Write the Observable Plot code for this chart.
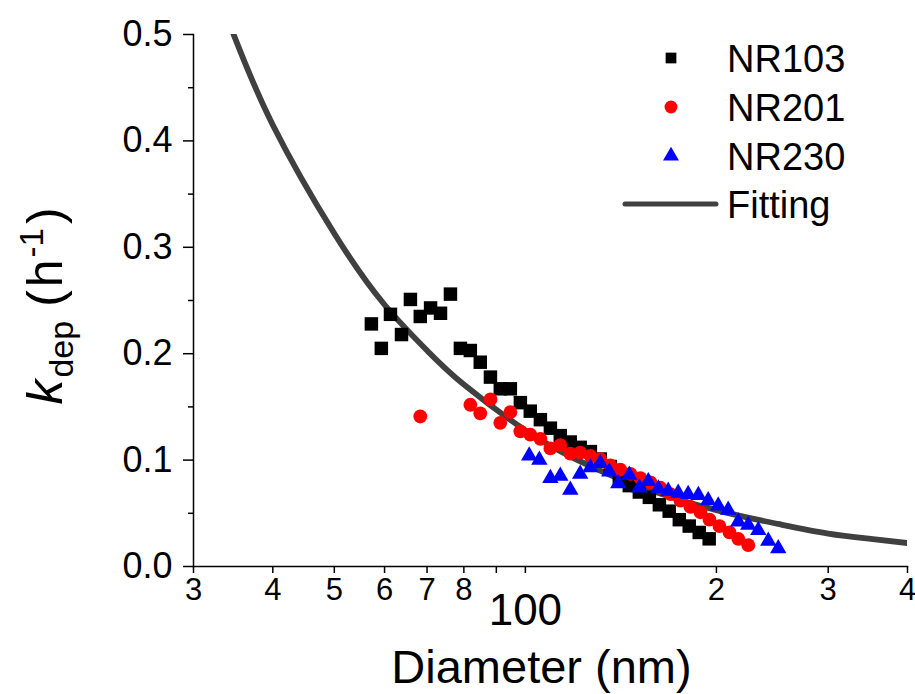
<!DOCTYPE html>
<html>
<head>
<meta charset="utf-8">
<script src="https://cdn.jsdelivr.net/npm/d3@7"></script>
<script src="https://cdn.jsdelivr.net/npm/@observablehq/plot@0.6"></script>
<style>
  html, body { margin: 0; padding: 0; background: #fff; }
  #chart { width: 915px; height: 694px; }
  svg { font-family: "Liberation Sans", Arial, sans-serif; }
</style>
</head>
<body>
<div id="chart"></div>
<script>
// ---- data ----
const nr103D = [57.2, 59.3, 61.3, 63.8, 65.9, 68.3, 70.9, 73.5, 76.2, 79.0, 81.9, 84.9, 88.1, 91.3, 94.7, 98.2, 101.8, 105.6, 109.5, 113.5, 117.7, 122.0, 126.6, 131.2, 136.1, 140.6, 145.8, 151.2, 156.8, 162.6, 168.5, 174.8, 181.2, 187.9, 194.8];
const nr103K = [0.228, 0.205, 0.237, 0.218, 0.251, 0.235, 0.243, 0.238, 0.256, 0.205, 0.203, 0.192, 0.178, 0.167, 0.167, 0.154, 0.146, 0.138, 0.130, 0.123, 0.117, 0.112, 0.108, 0.101, 0.094, 0.083, 0.076, 0.070, 0.065, 0.058, 0.052, 0.044, 0.038, 0.032, 0.026];

const nr201D = [68.3, 81.9, 84.9, 88.1, 91.3, 94.7, 98.2, 101.8, 105.6, 109.5, 113.5, 117.7, 122.0, 126.6, 131.2, 136.1, 141.1, 146.4, 151.8, 157.4, 163.2, 169.3, 175.5, 182.0, 188.7, 195.0, 202.2, 209.7, 216.5, 224.5];
const nr201K = [0.141, 0.152, 0.144, 0.157, 0.135, 0.145, 0.127, 0.124, 0.120, 0.111, 0.114, 0.106, 0.107, 0.104, 0.101, 0.095, 0.091, 0.087, 0.083, 0.079, 0.074, 0.068, 0.062, 0.056, 0.051, 0.044, 0.038, 0.032, 0.026, 0.020];

const nr230D = [101.4, 105.2, 109.5, 113.5, 117.7, 122.0, 126.6, 131.2, 135.6, 140.1, 145.8, 151.2, 156.2, 162.0, 167.9, 174.1, 180.5, 187.3, 194.1, 201.3, 208.7, 216.5, 224.5, 232.8, 241.4, 250.3];
const nr230K = [0.104, 0.100, 0.083, 0.085, 0.072, 0.087, 0.093, 0.097, 0.089, 0.078, 0.086, 0.074, 0.080, 0.073, 0.071, 0.069, 0.068, 0.067, 0.062, 0.057, 0.053, 0.042, 0.039, 0.034, 0.024, 0.017];

const fitD = [34.7, 40, 50, 60, 70, 80, 100, 120, 150, 200, 250, 300, 350, 400];
const fitK = [0.500, 0.415, 0.313, 0.246, 0.203, 0.171, 0.128, 0.101, 0.076, 0.053, 0.040, 0.031, 0.026, 0.022];

const xTicks = [30, 40, 50, 60, 70, 80, 90, 100, 200, 300, 400];
const xTickLabels = ["3", "4", "5", "6", "7", "8", "", "", "2", "3", "4"];
const xBigTick = [100];
const xBigTickLabel = ["100"];
const yMajor = [0, 0.1, 0.2, 0.3, 0.4, 0.5];
const yMinor = [0.05, 0.15, 0.25, 0.35, 0.45];

const seriesNames = ["NR103", "NR201", "NR230", "Fitting"];
const seriesColors = ["#000000", "#ff0000", "#0000ff", "#404040"];

// ---- build tables ----
const pts = (D, K) => D.map((d, i) => ({d, k: K[i]}));
const s103 = pts(nr103D, nr103K);
const s201 = pts(nr201D, nr201K);
const s230 = pts(nr230D, nr230K);
const fit = pts(fitD, fitK);
const xLabelOf = new Map(xTicks.map((t, i) => [t, xTickLabels[i]]));

const FONT = "'Liberation Sans', Arial, sans-serif";

const plot = Plot.plot({
  width: 915,
  height: 694,
  marginLeft: 193,
  marginRight: 8,
  marginTop: 34,
  marginBottom: 128,
  style: {fontFamily: FONT, color: "#000", background: "#fff", overflow: "visible"},
  x: {type: "log", domain: [30, 400]},
  y: {domain: [0, 0.5]},
  marks: [
    Plot.line(fit, {x: "d", y: "k", stroke: seriesColors[3], strokeWidth: 5.8, curve: "natural", clip: true}),
    Plot.dot(s103, {x: "d", y: "k", symbol: "square", r: 7.6, fill: seriesColors[0], stroke: "none"}),
    Plot.dot(s201, {x: "d", y: "k", symbol: "circle", r: 6.9, fill: seriesColors[1], stroke: "none"}),
    Plot.dot(s230, {x: "d", y: "k", symbol: "triangle", r: 6.1, fill: seriesColors[2], stroke: "none"}),
    Plot.axisY({ticks: yMajor, tickSize: 10, tickPadding: 11, tickFormat: d => d.toFixed(1), fontSize: 36, label: null, strokeWidth: 1.5}),
    Plot.axisY({ticks: yMinor, tickSize: 5, tickFormat: () => "", label: null, strokeWidth: 1.5}),
    Plot.axisX({ticks: xTicks, tickSize: 7, tickPadding: 4, tickFormat: d => xLabelOf.get(d) ?? "", fontSize: 31, label: null, strokeWidth: 1.5}),
    Plot.text(xBigTick, {x: d => d, text: (d, i) => xBigTickLabel[i], frameAnchor: "bottom", dy: 58, fontSize: 44}),
    Plot.text(["Diameter (nm)"], {frameAnchor: "bottom", dy: 116, dx: -9, fontSize: 47}),
    Plot.frame({anchor: "left", strokeWidth: 1.5}),
    Plot.frame({anchor: "bottom", strokeWidth: 1.5})
  ]
});

document.getElementById("chart").appendChild(plot);

// ---- y-axis title with italic k, subscript and superscript ----
const svg = d3.select(plot);
const yt = svg.append("text")
  .attr("transform", "translate(62,306) rotate(-90)")
  .attr("text-anchor", "middle")
  .attr("font-family", FONT)
  .attr("font-size", 50)
  .attr("fill", "#000");
yt.append("tspan").attr("font-style", "italic").text("k");
yt.append("tspan").attr("font-size", 34).attr("dy", 11).attr("dx", 2).text("dep");
yt.append("tspan").attr("dy", -11).attr("dx", 14).text("(");
yt.append("tspan").attr("dx", 3).text("h");
yt.append("tspan").attr("font-size", 33).attr("dy", -19).attr("dx", 2).text("-1");
yt.append("tspan").attr("dy", 19).attr("dx", 4).text(")");

// ---- legend ----
const lg = svg.append("g").attr("font-family", FONT).attr("font-size", 38).attr("fill", "#000").attr("text-anchor", "start");
const rowsY = [58, 107, 156, 204];
const symX = 671, textX = 727;
const symbols = [d3.symbolSquare, d3.symbolCircle, d3.symbolTriangle];
const symSize = [115, 130, 110];
seriesNames.forEach((name, i) => {
  const y = rowsY[i];
  if (i < 3) {
    lg.append("path")
      .attr("d", d3.symbol(symbols[i], symSize[i])())
      .attr("transform", `translate(${symX},${y})`)
      .attr("fill", seriesColors[i]);
  } else {
    lg.append("line")
      .attr("x1", 625).attr("x2", 716).attr("y1", y).attr("y2", y)
      .attr("stroke", seriesColors[i]).attr("stroke-width", 5)
      .attr("stroke-linecap", "round");
  }
  lg.append("text").attr("x", textX).attr("y", y + 13.5).attr("text-anchor", "start").text(name);
});
</script>
</body>
</html>
